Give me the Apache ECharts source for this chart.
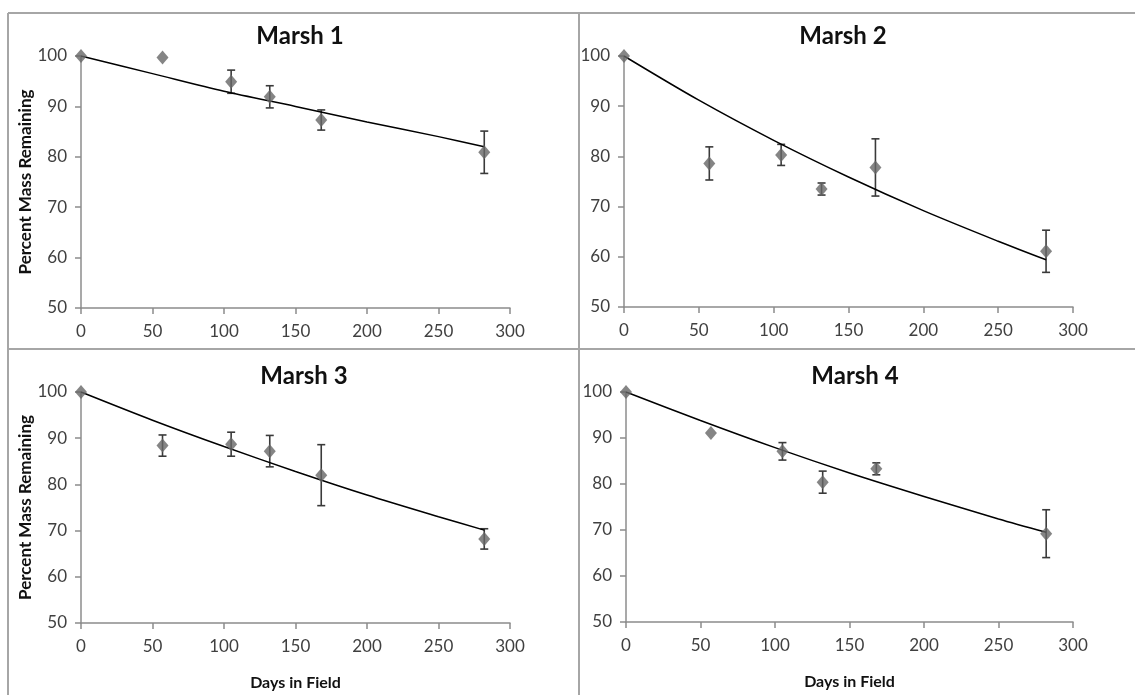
<!DOCTYPE html>
<html lang="en">
<head>
    <meta charset="UTF-8">
    <title>Percent Mass Remaining by Marsh</title>
    <script src="https://cdn.jsdelivr.net/npm/echarts@6/dist/echarts.min.js"></script>
    <style>
        html, body { margin: 0; padding: 0; background: #fff; }
        #chart { width: 1135px; height: 695px; }
    </style>
</head>
<body>
    <div id="chart"></div>
    <script>
        // data
        var panelTitles = ['Marsh 1', 'Marsh 2', 'Marsh 3', 'Marsh 4'];
        var days = [0, 57, 105, 132, 168, 282];

        var marsh1 = [100, 99.7, 94.9, 91.9, 87.3, 80.9];
        var marsh2 = [100, 78.6, 80.3, 73.5, 77.8, 61.1];
        var marsh3 = [100, 88.4, 88.7, 87.2, 82.0, 68.2];
        var marsh4 = [100, 91.1, 87.1, 80.4, 83.3, 69.2];

        // +/- error (0 = no bar drawn)
        var err1 = [0, 0, 2.3, 2.2, 2.0, 4.2];
        var err2 = [0, 3.3, 2.1, 1.2, 5.7, 4.2];
        var err3 = [0, 2.3, 2.6, 3.4, 6.6, 2.2];
        var err4 = [0, 0, 1.9, 2.4, 1.3, 5.2];

        // fitted trend lines, read at these days
        var fitDays = [0, 50, 100, 150, 200, 250, 282];
        var fit1 = [100, 96.5, 93.0, 90.0, 86.9, 84.0, 82.0];
        var fit2 = [100, 91.2, 83.2, 75.9, 69.2, 63.1, 59.4];
        var fit3 = [100, 93.9, 88.2, 82.8, 77.7, 73.0, 70.1];
        var fit4 = [100, 93.8, 87.9, 82.4, 77.3, 72.4, 69.5];

        var xTicks = [0, 50, 100, 150, 200, 250, 300];
        var yTicks = [50, 60, 70, 80, 90, 100];

        var values = [marsh1, marsh2, marsh3, marsh4];
        var errors = [err1, err2, err3, err4];
        var fits = [fit1, fit2, fit3, fit4];

        var chart = echarts.init(document.getElementById('chart'));

        var font = 'Lato, "Open Sans", sans-serif';
        var axisGray = '#8c8c8c';

        var grids = [
            { left: 81, top: 56, width: 429, height: 252 },
            { left: 624, top: 56, width: 449, height: 251 },
            { left: 81, top: 392, width: 429, height: 231 },
            { left: 626, top: 392, width: 447, height: 230 }
        ];
        var titleCenters = [[295, 19], [838, 19], [299, 359], [850, 359]];

        var xAxes = [], yAxes = [], series = [], titles = [];

        grids.forEach(function (g, i) {
            titles.push({
                text: panelTitles[i],
                left: titleCenters[i][0],
                top: titleCenters[i][1],
                textAlign: 'center',
                textStyle: { fontFamily: font, fontSize: 24, fontWeight: 'bold', color: '#111' }
            });
            xAxes.push({
                gridIndex: i,
                type: 'value',
                min: xTicks[0],
                max: xTicks[xTicks.length - 1],
                interval: 50,
                name: i >= 2 ? 'Days in Field' : '',
                nameLocation: 'middle',
                nameGap: 52,
                nameTextStyle: { fontFamily: font, fontSize: 16, fontWeight: 'bold', color: '#111' },
                axisLine: { lineStyle: { color: axisGray, width: 1.5 } },
                axisTick: { show: true, length: 6, lineStyle: { color: axisGray, width: 1.5 } },
                axisLabel: { fontFamily: font, fontSize: 17, color: '#404040', margin: 15 },
                splitLine: { show: false }
            });
            yAxes.push({
                gridIndex: i,
                type: 'value',
                min: yTicks[0],
                max: yTicks[yTicks.length - 1],
                interval: 10,
                name: i % 2 === 0 ? 'Percent Mass Remaining' : '',
                nameLocation: 'middle',
                nameGap: 47,
                nameTextStyle: { fontFamily: font, fontSize: 17, fontWeight: 'bold', color: '#111' },
                axisLine: { show: true, lineStyle: { color: axisGray, width: 1.5 } },
                axisTick: { show: true, length: 6, lineStyle: { color: axisGray, width: 1.5 } },
                axisLabel: { fontFamily: font, fontSize: 17, color: '#404040', margin: 14 },
                splitLine: { show: false }
            });

            var fitData = fitDays.map(function (d, k) { return [d, fits[i][k]]; });
            series.push({
                type: 'line',
                xAxisIndex: i,
                yAxisIndex: i,
                data: fitData,
                smooth: 0.3,
                symbol: 'none',
                lineStyle: { color: '#000', width: 1.5 },
                z: 3
            });

            var errData = [];
            days.forEach(function (d, k) {
                if (errors[i][k] > 0) {
                    errData.push([d, values[i][k] - errors[i][k], values[i][k] + errors[i][k]]);
                }
            });
            series.push({
                type: 'custom',
                xAxisIndex: i,
                yAxisIndex: i,
                data: errData,
                renderItem: function (params, api) {
                    var lo = api.coord([api.value(0), api.value(1)]);
                    var hi = api.coord([api.value(0), api.value(2)]);
                    var w = 4;
                    var st = { stroke: '#3a3a3a', lineWidth: 1.6 };
                    return {
                        type: 'group',
                        children: [
                            { type: 'line', shape: { x1: hi[0], y1: hi[1], x2: lo[0], y2: lo[1] }, style: st },
                            { type: 'line', shape: { x1: hi[0] - w, y1: hi[1], x2: hi[0] + w, y2: hi[1] }, style: st },
                            { type: 'line', shape: { x1: lo[0] - w, y1: lo[1], x2: lo[0] + w, y2: lo[1] }, style: st }
                        ]
                    };
                },
                z: 2
            });

            series.push({
                type: 'scatter',
                xAxisIndex: i,
                yAxisIndex: i,
                data: days.map(function (d, k) { return [d, values[i][k]]; }),
                symbol: 'diamond',
                symbolSize: [12, 14],
                itemStyle: { color: '#666666' },
                z: 4
            });
        });

        var frame = '#a6a6a6';
        var option = {
            animation: false,
            title: titles,
            grid: grids,
            xAxis: xAxes,
            yAxis: yAxes,
            series: series,
            graphic: [
                { type: 'line', shape: { x1: 8, y1: 13, x2: 1135, y2: 13 }, style: { stroke: frame, lineWidth: 2 } },
                { type: 'line', shape: { x1: 8, y1: 13, x2: 8, y2: 695 }, style: { stroke: frame, lineWidth: 2 } },
                { type: 'line', shape: { x1: 8, y1: 349, x2: 1135, y2: 349 }, style: { stroke: frame, lineWidth: 2 } },
                { type: 'line', shape: { x1: 579, y1: 13, x2: 579, y2: 695 }, style: { stroke: frame, lineWidth: 2 } }
            ]
        };

        chart.setOption(option);
    </script>
</body>
</html>
